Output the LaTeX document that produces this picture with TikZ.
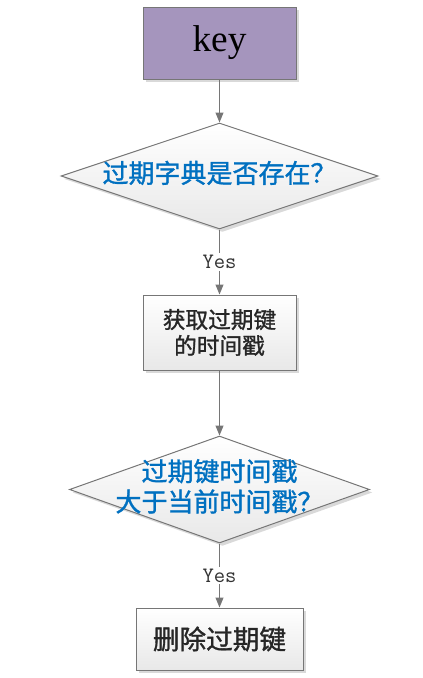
\documentclass[tikz,border=0pt]{standalone}
\usepackage{fontspec}
\setmainfont{Liberation Serif}
\newfontfamily\cjk[FakeBold=1.2]{Noto Sans CJK SC}
\usetikzlibrary{shapes.geometric,arrows.meta,shadows}
\definecolor{keypurple}{RGB}{165,149,189}
\definecolor{askblue}{RGB}{0,112,192}
\definecolor{edgegray}{RGB}{118,118,118}
% text of a diamond, kept out of the shape size
\newcommand{\asktext}[1]{\makebox[0pt]{\begin{tabular}{@{}c@{}}#1\end{tabular}}}

\begin{document}
\begin{tikzpicture}[x=0.75pt, y=-0.75pt,
  every node/.style={font=\cjk},
  softshadow/.style={drop shadow={shadow xshift=2.2pt, shadow yshift=-2.2pt, fill=black!15, opacity=1}},
  flow/.style={draw=edgegray, line width=0.75pt, -{Triangle[length=7.5pt,width=6pt]}},
  keybox/.style={draw=edgegray, line width=0.75pt, fill=keypurple, softshadow,
    minimum width=114.75pt, minimum height=54pt, font=\rmfamily\fontsize{28}{28}\selectfont},
  stepbox/.style={draw=edgegray, line width=0.75pt, top color=white, bottom color=black!9, softshadow,
    align=center, text=black!85},
  askbox/.style={diamond, draw=edgegray, line width=0.75pt, top color=white, bottom color=black!9,
    softshadow, inner sep=0pt, text=askblue},
  yes/.style={fill=white, inner sep=1.5pt, text=black!80, font=\ttfamily\fontsize{16.5}{16.5}\selectfont}]
  \useasboundingbox (0,0) rectangle (422,678);

  % steps
  \node[keybox] (key) at (219.5,43) {key};
  \node[askbox, minimum width=237.75pt, minimum height=79.5pt,
    font=\cjk\fontsize{19.5}{21}\selectfont] (hasexp) at (219.5,176)
    {\asktext{过期字典是否存在？}};
  \node[stepbox, minimum width=114.75pt, minimum height=56.25pt,
    font=\cjk\fontsize{17}{19.5}\selectfont] (gettime) at (219.5,332.5)
    {获取过期键\\的时间戳};
  \node[askbox, minimum width=225pt, minimum height=80.25pt,
    font=\cjk\fontsize{19.5}{21}\selectfont] (isold) at (219.5,489.5)
    {\asktext{过期键时间戳\\大于当前时间戳？}};
  \node[stepbox, minimum width=125.25pt, minimum height=46.5pt,
    font=\cjk\fontsize{20}{22}\selectfont] (delkey) at (219.5,639)
    {删除过期键};

  % flow
  \draw[flow] (key) -- (hasexp);
  \draw[flow] (hasexp) -- node[yes] {Yes} (gettime);
  \draw[flow] (gettime) -- (isold);
  \draw[flow] (isold) -- node[yes] {Yes} (delkey);
\end{tikzpicture}
\end{document}
